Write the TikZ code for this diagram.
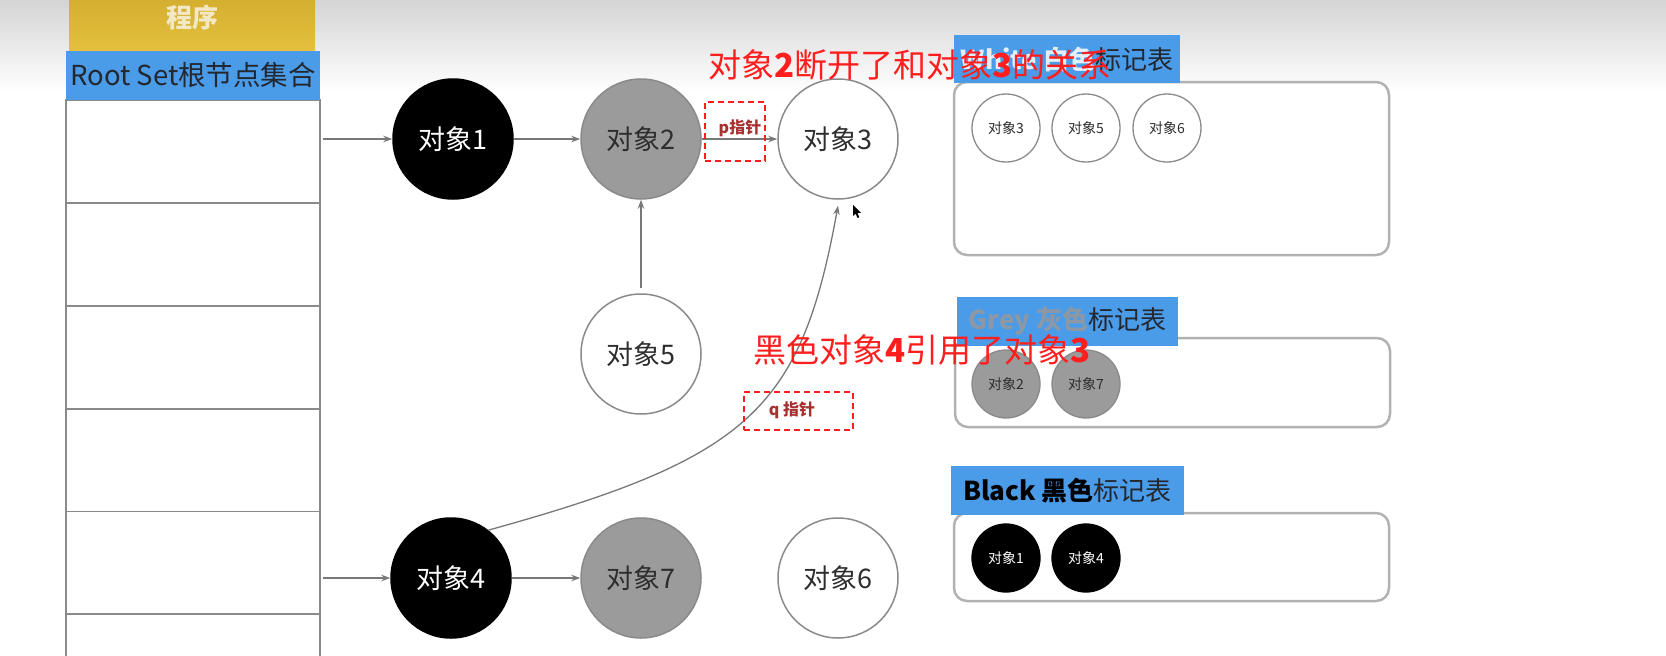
\documentclass[tikz,border=0pt]{standalone}
\usepackage{fontspec}
\setmainfont{Noto Sans CJK SC}
\usetikzlibrary{arrows.meta}
\definecolor{linegray}{RGB}{138,138,138}
\definecolor{arrgray}{RGB}{120,120,120}
\definecolor{objgray}{RGB}{155,155,155}
\definecolor{txtdark}{RGB}{45,45,45}
\definecolor{lblblue}{RGB}{74,155,232}
\definecolor{gold1}{RGB}{208,170,44}
\definecolor{gold2}{RGB}{228,192,62}
\definecolor{goldtxt}{RGB}{242,232,196}
\definecolor{tblgray}{RGB}{178,178,178}
\definecolor{redann}{RGB}{255,30,30}
\definecolor{ptxt}{RGB}{165,50,48}
\definecolor{greytxt}{RGB}{140,152,166}
\definecolor{whitetxt}{RGB}{228,238,248}
\definecolor{lbltxt}{RGB}{35,40,48}
\definecolor{bgtop}{RGB}{212,212,212}
\begin{document}
\begin{tikzpicture}[x=1pt,y=-1pt,
  obj/.style={circle,draw=linegray,line width=1.5pt,minimum size=120pt,inner sep=0pt,font=\fontsize{27}{30}\selectfont},
  wobj/.style={obj,fill=white,text=txtdark},
  gobj/.style={obj,fill=objgray,text=txtdark},
  bobj/.style={obj,fill=black,draw=black,text=white},
  sobj/.style={minimum size=68pt,line width=1.3pt,font=\fontsize{14}{16}\selectfont},
  arr/.style={draw=arrgray,line width=1.3pt,-{Stealth[length=9pt,width=6.5pt]}},
  rowbox/.style={rectangle,draw=linegray,line width=1.6pt,fill=white,minimum width=254pt,minimum height=103pt,inner sep=0pt},
  tbl/.style={rectangle,rounded corners=13pt,draw=tblgray,line width=2.5pt,fill=white,minimum width=435pt,inner sep=0pt},
  lbl/.style={rectangle,fill=lblblue,inner sep=0pt,text=lbltxt,font=\fontsize{26}{28}\selectfont},
  redbox/.style={rectangle,draw=redann,dash pattern=on 6pt off 4pt,line width=2pt,inner sep=0pt},
  ptr/.style={text=ptxt,font=\bfseries\fontsize{16}{18}\selectfont,inner sep=0pt},
  ann/.style={text=redann,font=\fontsize{33}{36}\selectfont,inner sep=0pt}
]
\useasboundingbox (0,0) rectangle (1666,656);
\clip (0,0) rectangle (1666,656);
\fill[white] (0,0) rectangle (1666,656);
\shade[top color=bgtop,bottom color=white] (0,0) rectangle (1666,92);

% root set column
\node[rowbox] (row1) at (193,151.5) {};
\node[rowbox] (row2) at (193,254.5) {};
\node[rowbox] (row3) at (193,357.5) {};
\node[rowbox] (row4) at (193,460.5) {};
\node[rowbox] (row5) at (193,563) {};
\node[rowbox] (row6) at (193,665.5) {};
\node[lbl,minimum width=254pt,minimum height=49pt,font=\fontsize{27.5}{29}\selectfont] (rootset) at (193,75.5) {Root Set根节点集合};
\node[rectangle,top color=gold1,bottom color=gold2,minimum width=246pt,minimum height=64pt,inner sep=0pt,text=goldtxt,font=\bfseries\fontsize{26}{28}\selectfont] (prog) at (192,18) {程序};

% objects
\node[bobj] (o1) at (453,139) {对象1};
\node[gobj] (o2) at (641,139) {对象2};
\node[wobj] (o3) at (838,139) {对象3};
\node[wobj] (o5) at (641,354) {对象5};
\node[bobj] (o4) at (451,578) {对象4};
\node[gobj] (o7) at (641,578) {对象7};
\node[wobj] (o6) at (838,578) {对象6};

\coordinate (r1) at (323,139);
\coordinate (r5) at (323,578);

\draw[arr] (r1) -- (o1);
\draw[arr] (o1) -- (o2);
\draw[arr] (o2) -- (o3);
\draw[arr,shorten <=5pt] (o5) -- (o2);
\draw[arr] (r5) -- (o4);
\draw[arr] (o4) -- (o7);
\draw[arr] (o4.52) .. controls (749,458) and (801,410) .. ([yshift=-6pt]o3.south);

% pointer boxes
\node[redbox,minimum width=60pt,minimum height=59pt] (pbox) at (735,131.5) {};
\node[ptr] (ptxt) at (740,128) {p指针};
\node[redbox,minimum width=109pt,minimum height=38pt] (qbox) at (798.5,411) {};
\node[ptr] (qtxt) at (792,410) {q 指针};

% mouse cursor
\fill[black] (853,205) -- (853,216) -- (855.5,213.5) -- (857.5,218) -- (859.3,217.2) -- (857.4,212.8) -- (861,212.8) -- cycle;

% white table
\node[tbl,minimum height=173pt] (wtab) at (1171.5,168.5) {};
\node[lbl,minimum width=226pt,minimum height=48pt] (wlbl) at (1067,59) {{\bfseries\color{whitetxt}White 白色}标记表};
\node[wobj,sobj] (w3) at (1006,128) {对象3};
\node[wobj,sobj] (w5) at (1086,128) {对象5};
\node[wobj,sobj] (w6) at (1167,128) {对象6};

% grey table
\node[tbl,minimum height=89pt] (gtab) at (1172.5,382.5) {};
\node[lbl,minimum width=221pt,minimum height=49pt] (glbl) at (1067.5,321.5) {{\bfseries\color{greytxt}Grey 灰色}标记表};
\node[gobj,sobj] (g2) at (1006,384) {对象2};
\node[gobj,sobj] (g7) at (1086,384) {对象7};

% black table
\node[tbl,minimum height=88pt] (btab) at (1171.5,557) {};
\node[lbl,minimum width=233pt,minimum height=49pt] (blbl) at (1067.5,490.5) {{\bfseries\color{black}Black 黑色}标记表};
\node[bobj,sobj] (b1) at (1006,558) {对象1};
\node[bobj,sobj] (b4) at (1086,558) {对象4};

% red annotations
\node[ann] (ann1) at (910,65) {对象{\bfseries 2}断开了和对象{\bfseries 3}的关系};
\node[ann] (ann2) at (922,350) {黑色对象{\bfseries 4}引用了对象{\bfseries 3}};
\end{tikzpicture}
\end{document}
